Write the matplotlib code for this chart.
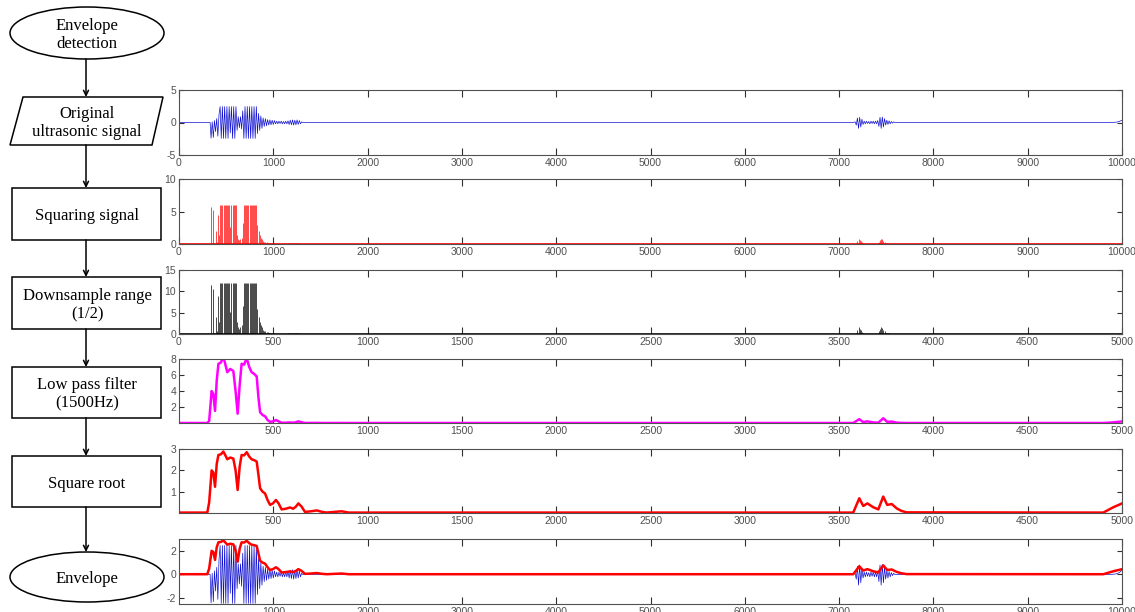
"""
Envelope detection of an ultrasonic echo: flowchart on the left and the
signal after every processing step on the right.
"""

import numpy as np
import matplotlib
matplotlib.use('Agg')
import matplotlib.pyplot as plt
from matplotlib.patches import Ellipse, Polygon, Rectangle

plt.rcParams['axes.unicode_minus'] = False
plt.rcParams['font.family'] = ['Liberation Sans', 'DejaVu Sans']

# ---- data ----------------------------------------------------------------
# raw ultrasonic signal, oscillation peaks (sample index, value)
burst1_t = [0, 330,
            340, 352, 364, 376, 388, 400, 412, 424,
            436, 448, 460, 472, 484, 496, 508, 520, 532, 544, 556, 568, 580, 592, 604,
            616, 628, 640, 652, 664, 676,
            688, 700, 712, 724, 736, 748, 760, 772, 784, 796, 808, 820,
            832, 844, 856, 868, 880,
            892, 904, 916, 928,
            940, 952, 964, 976, 988, 1000, 1012,
            1024, 1036, 1048, 1060, 1072, 1084, 1096, 1108, 1120, 1132, 1144, 1156,
            1168, 1180, 1192, 1204, 1216, 1228, 1240, 1252, 1264, 1276, 1288, 1300,
            1312, 7150]
burst1_v = [0, 0,
            -2.4, 0.1, -2.3, 0.3, -1.4, 0.6, -2.1, 1.2,
            2.45, -2.45, 2.45, -2.45, 2.45, -2.45, 2.45, -2.45, 2.45, -1.6, 2.45, -2.45, 2.45, -2.45, 2.45,
            -1.2, 0.9, -0.8, 0.9, -1.0, 1.8,
            -2.45, 2.45, -2.45, 2.45, -2.45, 2.45, -2.45, 2.45, -2.45, 2.45, -2.45, 2.45,
            -1.7, 1.4, -1.2, 1.0, -0.9,
            0.7, -0.6, 0.6, -0.5,
            0.45, -0.4, 0.4, -0.35, 0.35, -0.3, 0.3,
            -0.2, 0.2, -0.2, 0.2, -0.15, 0.2, -0.2, 0.15, -0.2, 0.2, -0.2, 0.25,
            -0.3, 0.35, -0.35, 0.4, -0.4, 0.35, -0.35, 0.4, -0.3, 0.3, -0.2, 0.1,
            0, 0]
echo2_t = [7170, 7182, 7194, 7206, 7218, 7230, 7242, 7254, 7266, 7278, 7290, 7302,
           7314, 7326, 7338, 7350, 7362, 7374, 7386, 7398, 7410, 7422, 7434, 7446,
           7458, 7470, 7482, 7494, 7506, 7518, 7530, 7542, 7554, 7566, 7578, 7590,
           9880, 9940, 9970, 10000]
echo2_v = [0.1, -0.4, 0.7, -0.9, 0.8, -0.7, 0.5, -0.3, 0.2, -0.2, 0.2, -0.15,
           0.15, -0.2, 0.2, -0.15, 0.2, -0.2, 0.2, -0.2, 0.3, -0.6, 0.8, -0.9,
           0.85, -0.7, 0.6, -0.4, 0.35, -0.3, 0.25, -0.2, 0.15, -0.1, 0.1, 0,
           0, 0.05, 0.15, 0.35]

# envelope after the square root (downsampled index, amplitude)
env_t = [0, 150, 160, 173, 182, 191, 200, 209, 222, 235, 246, 256, 272, 288, 300,
         311, 322, 332, 345, 359, 372, 385, 398, 412, 421, 430, 443, 456, 470, 483,
         498, 514, 528, 544, 566, 589, 605, 620, 633, 650, 668, 700, 730, 760, 783,
         862, 900, 3575, 3607, 3628, 3650, 3681, 3708, 3734, 3755, 3779, 3805, 3830,
         3858, 4901, 4954, 4993, 5000]
env_v = [0.02, 0.02, 0.5, 2.0, 1.9, 1.23, 2.3, 2.72, 2.75, 2.88, 2.7, 2.52, 2.6, 2.55, 2.0,
         1.08, 2.2, 2.72, 2.7, 2.85, 2.65, 2.52, 2.48, 2.41, 1.8, 1.16, 1.0, 0.92, 0.6, 0.38,
         0.45, 0.61, 0.45, 0.17, 0.2, 0.26, 0.2, 0.3, 0.45, 0.3, 0.05, 0.08, 0.12, 0.05, 0.02,
         0.08, 0.02, 0.02, 0.69, 0.33, 0.45, 0.27, 0.17, 0.77, 0.38, 0.42, 0.22, 0.1,
         0.03, 0.02, 0.27, 0.42, 0.45]

steps = ['Envelope\ndetection', 'Original\nultrasonic signal', 'Squaring signal',
         'Downsample range\n(1/2)', 'Low pass filter\n(1500Hz)', 'Square root', 'Envelope']

raw_t = np.array(burst1_t + echo2_t, dtype=float)
raw_v = np.array(burst1_v + echo2_v)
env_t = np.array(env_t, dtype=float)
env_v = np.array(env_v)

W, H = 1135, 612
fig = plt.figure(figsize=(W / 100, H / 100), dpi=100)

# ---- flowchart ------------------------------------------------------------
fa = fig.add_axes([0, 0, 1, 1])
fa.set_xlim(0, W)
fa.set_ylim(H, 0)
fa.axis('off')

cx = 86
# (kind, top, bottom) of each block, in pixels
blocks = [('ellipse', 7, 59), ('para', 97, 145), ('rect', 188, 240), ('rect', 277, 329),
          ('rect', 367, 418), ('rect', 456, 507), ('ellipse', 552, 602)]
kw = dict(fill=False, ec='black', lw=1.1)
for (kind, top, bot), label in zip(blocks, steps):
    if kind == 'ellipse':
        fa.add_patch(Ellipse((87, (top + bot) / 2), 154, bot - top, **kw))
    elif kind == 'para':
        fa.add_patch(Polygon([(23, top), (163, top), (152, bot), (10, bot)], closed=True, **kw))
    else:
        fa.add_patch(Rectangle((12, top), 149, bot - top, **kw))
    fa.text(cx + 1, (top + bot) / 2 + 2, label, ha='center', va='center', fontsize=12,
            family='Liberation Serif', linespacing=1.2)

for (_, _, bot), (_, top, _) in zip(blocks[:-1], blocks[1:]):
    fa.annotate('', xy=(cx, top), xytext=(cx, bot),
                arrowprops=dict(arrowstyle='->', color='black', lw=1.1,
                                shrinkA=0, shrinkB=0, mutation_scale=9))

# ---- signal panels --------------------------------------------------------
left, width = 179 / W, (1122 - 179) / W
tops = [90, 179, 270, 359, 449, 539]
heights = [65, 65, 64, 64, 64, 65]
axes = [fig.add_axes([left, 1 - (t + h) / H, width, h / H]) for t, h in zip(tops, heights)]


def style(ax, xlim, ylim, xticks, yticks):
    ax.set_xlim(*xlim)
    ax.set_ylim(*ylim)
    ax.set_xticks(xticks)
    ax.set_yticks(yticks)
    ax.tick_params(direction='in', top=True, right=True, labelsize=7.5,
                   color='#303030', labelcolor='#505050', width=0.8, pad=2)
    ax.tick_params(axis='x', length=5)
    ax.tick_params(axis='y', length=3.5)
    for s in ax.spines.values():
        s.set_color('#505050')
        s.set_linewidth(0.8)


# original signal
ax = axes[0]
ax.plot(raw_t, raw_v, color='#1010d0', lw=0.5)
style(ax, (0, 10000), (-5, 5), range(0, 10001, 1000), [-5, 0, 5])

# squared signal
ax = axes[1]
ax.vlines(raw_t, 0, raw_v ** 2, color='#ff0000', lw=0.5)
ax.axhline(0, color='#ff0000', lw=1.2)
style(ax, (0, 10000), (0, 10), range(0, 10001, 1000), [0, 5, 10])

# downsampled (half the samples, doubled amplitude)
ax = axes[2]
ax.vlines(raw_t / 2, 0, 2 * raw_v ** 2, color='black', lw=0.5)
ax.axhline(0, color='black', lw=1.2)
style(ax, (0, 5000), (0, 15), range(0, 5001, 500), [0, 5, 10, 15])

# low pass filtered = square of the envelope
ax = axes[3]
ax.plot(env_t, env_v ** 2, color='#ff00ff', lw=1.8)
style(ax, (0, 5000), (0, 8), range(500, 5001, 500), [2, 4, 6, 8])

# square root
ax = axes[4]
ax.plot(env_t, env_v, color='#ff0000', lw=1.8)
style(ax, (0, 5000), (0, 3), range(500, 5001, 500), [1, 2, 3])

# envelope over the original signal
ax = axes[5]
ax.plot(raw_t, raw_v, color='#1010d0', lw=0.5)
ax.plot(env_t * 2, env_v, color='#ff0000', lw=1.8)
style(ax, (0, 10000), (-2.5, 3), range(1000, 10001, 1000), [-2, 0, 2])

fig.savefig('out.png', dpi=100)
